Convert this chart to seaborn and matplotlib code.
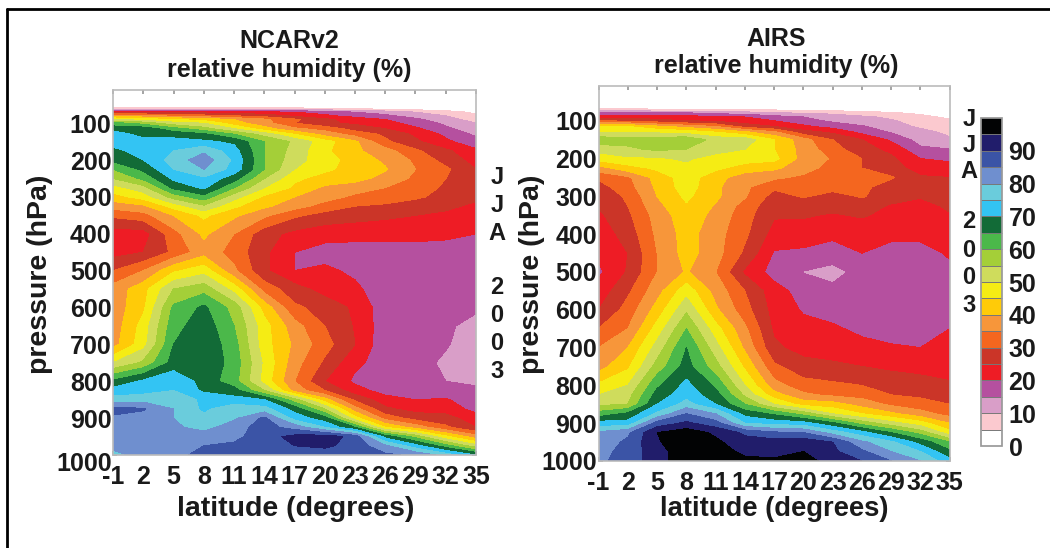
import numpy as np
import matplotlib
matplotlib.use('Agg')
import matplotlib.pyplot as plt
import matplotlib.transforms as mtrans
import seaborn as sns

# latitude columns and pressure rows of the two humidity tables
lat = [-1, 2, 5, 8, 11, 14, 17, 20, 23, 26, 29, 32, 35]
pres = [50, 60, 70, 80, 90, 100, 115, 130, 150, 175, 200, 225, 250, 275, 300, 325, 350,
        400, 450, 500, 550, 600, 650, 700, 750, 800, 825, 850, 875, 900, 925, 950, 975, 1000]

# NCARv2 relative humidity, one row per pressure level
ncar_rh = [
    [0, 0, 0, 0, 0, 0, 0, 0, 0, 0, 0, 0, 0],
    [7, 7, 7, 7, 7, 6, 6, 5, 4, 3, 2, 2, 1],
    [24, 24, 24, 23, 22, 21, 20, 18, 15, 13, 10, 7, 4],
    [38, 36, 34, 32, 30, 28, 24, 21, 18, 16, 13, 10, 6],
    [50, 48, 45, 43, 40, 36, 31, 26, 23, 20, 16, 12, 8],
    [62, 58, 52, 50, 42, 37, 30, 26, 24, 22, 18, 14, 10],
    [68, 68, 62, 57, 50, 42, 36, 33, 28, 25, 21, 16, 12],
    [73, 68, 68, 66, 60, 53, 45, 38, 33, 29, 24, 19, 14],
    [73, 72, 72, 71, 69, 60, 54, 47, 41, 31, 26, 21, 17],
    [68, 73, 75, 79, 72, 60, 53, 46, 41, 37, 31, 26, 21],
    [66, 70, 77, 83, 74, 60, 52, 47, 43, 39, 34, 28, 23],
    [60, 66, 75, 80, 73, 60, 50, 46, 43, 40.5, 35, 31, 25],
    [55, 61, 71, 74, 67, 55, 46, 43, 42, 38, 34, 30, 26],
    [48, 53, 66, 71, 60, 50, 44, 39, 37, 35, 33, 29, 27],
    [43, 47, 57, 63, 52, 44, 40, 37, 34, 33, 31, 28, 26],
    [37, 39, 47, 54, 46, 41, 37, 33, 30, 29, 27, 26, 24],
    [31, 33, 40, 46, 41, 36, 31, 28, 27, 26, 25, 24, 23],
    [22.5, 22.5, 33, 41, 35, 27, 23.5, 22, 21.5, 21.5, 21.5, 21, 20],
    [23, 25, 31, 38, 33, 26, 20, 18, 18, 18, 18, 18, 18],
    [30, 35, 44, 48, 36, 26, 20, 21, 19, 17, 17, 17, 17],
    [37, 43, 55, 58, 48, 33, 27, 23, 21, 17, 17, 17, 17],
    [37, 44, 61, 66, 58, 43, 31, 28, 24, 17, 17, 17, 16],
    [37, 47, 63, 68, 60, 47, 37, 30, 24.5, 17, 17, 16, 13],
    [38, 48, 65, 69, 62, 47, 39, 32, 25, 16.5, 17, 15.5, 12],
    [50, 56, 67, 69, 63, 49, 37, 29, 21, 18, 17, 14, 12],
    [66, 71, 74, 68, 62, 48, 35, 25, 19, 17, 17, 15, 14],
    [72, 73, 75, 69, 67, 55, 38, 30, 22, 18, 17, 17, 16],
    [77, 78, 78, 74, 72, 70, 57, 42, 29, 22, 20, 20.5, 17],
    [87, 85.5, 80, 74, 78, 77, 68, 55, 37, 26, 23, 22.5, 18.5],
    [84, 83, 80, 76, 79, 86, 73, 67, 47, 33, 28, 27, 22],
    [83, 82.5, 81, 78, 83, 87, 83, 75, 65, 45, 38, 31, 25],
    [82, 82, 82, 83, 83.5, 88, 91.5, 93, 88, 68, 58, 46, 37],
    [82, 82, 84, 85, 86, 88, 90, 91, 88, 81, 72, 62, 52],
    [78, 82, 84, 86, 87, 87, 87, 87, 86, 86, 84, 78, 70],
]

# AIRS relative humidity
airs_rh = [
    [0, 0, 0, 0, 0, 0, 0, 0, 0, 0, 0, 0, 0],
    [0, 0, 0, 0, 0, 0, 0, 0, 0, 0, 0, 0, 0],
    [6, 6, 5.5, 5.5, 5, 4.5, 4, 3.5, 3, 2.5, 2, 1.5, 1],
    [17, 17, 16, 16, 14, 13, 11, 10, 9, 7, 6, 4, 2],
    [23, 23, 22, 22, 21, 20, 17, 15, 13, 11, 9, 7, 3.5],
    [30, 29, 27, 25, 24, 22, 20, 17, 14, 12, 10.5, 8, 6.5],
    [46, 45, 41, 38, 35, 28, 25, 21, 18, 15.5, 12.5, 9, 7.5],
    [50, 50, 49, 48, 45, 41, 36, 27, 24, 18.5, 14.5, 12, 8.5],
    [58, 57, 58, 59, 53, 53, 45, 37, 30, 25, 19, 13, 11],
    [52, 54, 56, 55, 53, 50, 45, 38, 32, 27, 23.5, 16, 15],
    [47, 49, 49, 51, 47, 47, 46.5, 38, 34.5, 30, 26, 20, 19.5],
    [38, 43, 46, 48, 46, 43, 41, 37, 33, 30, 27, 23, 21],
    [31, 34, 42, 47.5, 42, 37, 36, 34, 33, 31.5, 30.5, 25.5, 25],
    [28, 33, 41, 47.5, 41, 36, 31, 31.5, 32, 31, 28, 27, 26],
    [26, 31, 40, 46, 41, 35.5, 28, 30.5, 28, 30.5, 27, 25.5, 27],
    [25.5, 30, 38.5, 44.5, 39.5, 33, 26.5, 26.5, 26.5, 27, 24.5, 23, 26],
    [24, 29, 37, 43, 38.5, 32, 25.5, 25.5, 24.5, 25.5, 23.5, 22.5, 24.5],
    [22, 27, 36, 42, 37, 31, 23, 22.5, 21, 22, 21, 21, 22.5],
    [21, 25, 35, 42, 37, 29, 19.5, 19, 18, 20, 18.5, 18.5, 20.5],
    [19, 25.5, 35, 40.5, 35, 24, 18, 14.8, 13, 17, 17.5, 17.5, 19],
    [22, 29, 38, 48, 38, 30, 22, 18, 16.5, 17, 17, 17, 18],
    [25, 32, 42, 54, 41, 32, 23, 19.5, 17.5, 17, 17, 17, 17.5],
    [30, 35, 47, 60, 47, 36, 24, 21.5, 21, 18.5, 18, 17.5, 20],
    [35, 40, 52, 65, 52, 39, 26, 23, 22.5, 22, 20.5, 20, 22],
    [38, 44, 57, 67, 57, 44, 31, 27, 26, 25, 24, 23, 23.5],
    [46, 50, 64, 71.5, 64, 50, 37, 32, 31, 30, 28, 27.5, 25.5],
    [50, 53, 67, 73, 67, 54, 42, 36, 34, 33, 30, 29, 28],
    [54, 55, 70, 77, 70, 60, 50, 43, 42, 38, 34, 32, 30],
    [62, 66, 76, 85, 80, 68, 64, 58, 50, 45, 41, 37, 33],
    [72, 72, 87, 91, 87, 75, 73, 72, 66, 58, 52, 47, 40],
    [81, 84, 95, 98, 94, 89, 86, 85, 78, 72, 65, 58, 47],
    [82, 86, 94.5, 98, 96, 92, 92, 93, 90, 81, 76, 68, 60],
    [83, 87, 93, 98, 97, 94, 94, 95, 91, 86, 80, 75, 66],
    [84, 87, 93, 98, 98, 96, 95.5, 97, 93, 90, 85, 80, 72],
]

rh_levels = list(range(0, 105, 5))
rh_colors = ['#ffffff', '#fbc9cf', '#d99ec8', '#b5509f', '#ee1c25', '#cb3528', '#f4661f', '#f7963a',
             '#ffcb08', '#f5ec14', '#cfdc5c', '#a4cf38', '#4bb84a', '#126b37', '#33c4f3', '#6accdc',
             '#6f8fcf', '#3b54a6', '#211d6b', '#020304']
lat_ticks = [-1, 2, 5, 8, 11, 14, 17, 20, 23, 26, 29, 32, 35]
pres_ticks = [100, 200, 300, 400, 500, 600, 700, 800, 900, 1000]
cbar_ticks = [0, 10, 20, 30, 40, 50, 60, 70, 80, 90]

sns.set_theme(style='white')
plt.rcParams['font.family'] = ['Liberation Sans', 'DejaVu Sans']
plt.rcParams['font.weight'] = 'bold'
plt.rcParams['axes.unicode_minus'] = False
plt.rcParams['text.color'] = '#1a1a1a'
plt.rcParams['xtick.color'] = '#1a1a1a'
plt.rcParams['ytick.color'] = '#1a1a1a'
palette = sns.color_palette(rh_colors)

W, H = 1050, 548
fig = plt.figure(figsize=(W / 100, H / 100), dpi=100)


def px_axes(x0, x1, y0, y1):
    # axes box given in image pixels, y counted from the top
    return fig.add_axes([x0 / W, 1 - y1 / H, (x1 - x0) / W, (y1 - y0) / H])


def panel(box, rh, top, title_x, title_y, gap, title):
    ax = px_axes(*box)
    cs = ax.contourf(lat, pres, np.array(rh), levels=rh_levels, colors=palette)
    ax.set_xlim(-1, 35)
    ax.set_ylim(1000, top)
    ax.set_xticks(lat_ticks)
    ax.set_yticks(pres_ticks)
    ax.tick_params(axis='x', labelsize=18, length=3, direction='in', color='#999999', top=True,
                   bottom=True, pad=7, labelcolor='#1a1a1a')
    ax.tick_params(axis='y', labelsize=18, length=3, direction='in', color='#999999', right=True,
                   left=True, pad=1, labelcolor='#1a1a1a')
    for s in ax.spines.values():
        s.set_color('#bbbbbb')
        s.set_linewidth(1.2)
    fig.text(title_x / W, 1 - title_y / H, title, ha='center', va='center', fontsize=18, fontweight='bold')
    fig.text(title_x / W, 1 - (title_y + gap) / H, 'relative humidity (%)', ha='center', va='center',
             fontsize=18, fontweight='bold')
    return ax, cs


ax1, cs1 = panel((113, 476, 90, 455), ncar_rh, 10, 289, 41, 29, 'NCARv2')
ax2, cs2 = panel((598.6, 949.7, 86, 461), airs_rh, 8, 776, 39, 27, 'AIRS')

# the 1000 label of the left panel sits a little below its axis end
lab = ax1.get_yticklabels()[-1]
lab.set_transform(lab.get_transform() + mtrans.ScaledTranslation(0, -5 / 72, fig.dpi_scale_trans))

fig.text(296 / W, 1 - 509 / H, 'latitude (degrees)', ha='center', va='center', fontsize=20.5, fontweight='bold')
fig.text(774 / W, 1 - 509 / H, 'latitude (degrees)', ha='center', va='center', fontsize=19.7, fontweight='bold')
fig.text(40 / W, 1 - 274 / H, 'pressure (hPa)', rotation=90, ha='center', va='center', fontsize=20.5, fontweight='bold')
fig.text(532 / W, 1 - 274 / H, 'pressure (hPa)', rotation=90, ha='center', va='center', fontsize=20.5, fontweight='bold')

# season label written letter by letter
for ch, y in zip('JJA2003', [178, 206, 234, 288, 316, 344, 372]):
    fig.text(497 / W, 1 - y / H, ch, ha='center', va='center', fontsize=17, fontweight='bold')
for ch, y in zip('JJA2003', [119, 145, 172, 222, 250, 278, 306]):
    fig.text(969 / W, 1 - y / H, ch, ha='center', va='center', fontsize=17, fontweight='bold')

cax = px_axes(981, 1001.6, 118, 446)
cb = fig.colorbar(cs2, cax=cax, ticks=cbar_ticks, drawedges=True)
cb.ax.tick_params(labelsize=18, length=0, pad=5)
cb.outline.set_edgecolor('#999999')
cb.dividers.set_color('#777777')
cb.dividers.set_linewidth(0.7)

# frame of the figure: only top and left are inside the picture
fig.add_artist(plt.Line2D([7 / W, 7 / W], [0, 1 - 9 / H], color='black', lw=2))
fig.add_artist(plt.Line2D([7 / W, 1], [1 - 9 / H, 1 - 9 / H], color='black', lw=2))

fig.savefig('out.png', dpi=100)
